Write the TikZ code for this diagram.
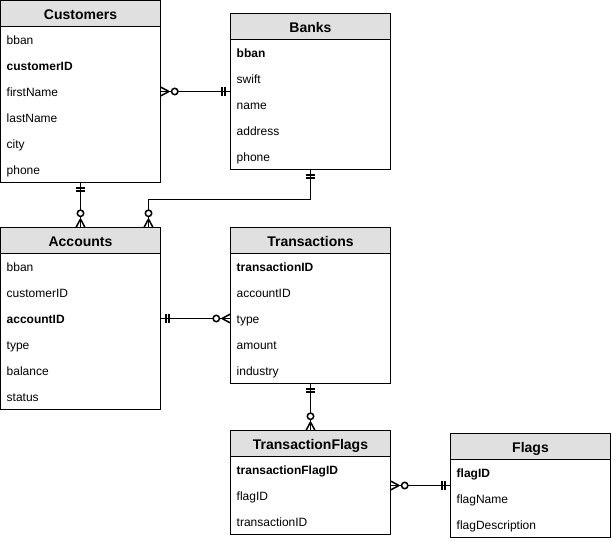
\documentclass[tikz,border=0pt]{standalone}
\usepackage{fontspec}
\setmainfont{Liberation Sans}
\usetikzlibrary{positioning,arrows.meta}

\definecolor{hdrgray}{RGB}{224,224,224}

% crow's foot ends: mandatory one, zero or many
\pgfdeclarearrow{
  name = onlyone,
  setup code = {
    \pgfarrowssettipend{0pt}
    \pgfarrowssetlineend{0pt}
    \pgfarrowssetbackend{-10pt}
    \pgfarrowssetvisualbackend{-10pt}
    \pgfarrowshullpoint{0pt}{5pt}
    \pgfarrowshullpoint{0pt}{-5pt}
    \pgfarrowshullpoint{-10pt}{5pt}
    \pgfarrowshullpoint{-10pt}{-5pt}
  },
  drawing code = {
    \pgfpathmoveto{\pgfpoint{-5.5pt}{-4.5pt}}
    \pgfpathlineto{\pgfpoint{-5.5pt}{4.5pt}}
    \pgfpathmoveto{\pgfpoint{-8.5pt}{-4.5pt}}
    \pgfpathlineto{\pgfpoint{-8.5pt}{4.5pt}}
    \pgfusepathqstroke
  }
}
\pgfdeclarearrow{
  name = zeromany,
  setup code = {
    \pgfarrowssettipend{0pt}
    \pgfarrowssetlineend{0pt}
    \pgfarrowssetbackend{-18pt}
    \pgfarrowssetvisualbackend{-18pt}
    \pgfarrowshullpoint{0pt}{5pt}
    \pgfarrowshullpoint{0pt}{-5pt}
    \pgfarrowshullpoint{-18pt}{5pt}
    \pgfarrowshullpoint{-18pt}{-5pt}
  },
  drawing code = {
    \pgfpathmoveto{\pgfpoint{0pt}{4.5pt}}
    \pgfpathlineto{\pgfpoint{-8.5pt}{0pt}}
    \pgfpathmoveto{\pgfpoint{0pt}{-4.5pt}}
    \pgfpathlineto{\pgfpoint{-8.5pt}{0pt}}
    \pgfusepathqstroke
    \pgfpathcircle{\pgfpoint{-14.2pt}{0pt}}{3.2pt}
    \pgfsetfillcolor{white}
    \pgfusepathqfillstroke
  }
}

\begin{document}
\begin{tikzpicture}[x=1pt,y=-1pt,
  table/.style={draw,line width=1pt,minimum width=160pt,inner sep=0,outer sep=0,anchor=north west},
  hdr/.style={draw,line width=1pt,fill=hdrgray,minimum width=160pt,minimum height=26pt,
    inner sep=0,outer sep=0,anchor=north,text height=12pt,text depth=0pt,
    font=\bfseries\fontsize{14}{16}\selectfont},
  field/.style={anchor=west,inner sep=0,text height=10pt,text depth=0pt,
    font=\fontsize{12}{14}\selectfont},
  rel/.style={line width=1.5pt}]

  \useasboundingbox (0,0) rectangle (611,541);

  % tables
  \node[table,minimum height=182pt] (cust) at (0.5,0.5) {};
  \node[table,minimum height=156pt] (bank) at (230.5,13.5) {};
  \node[table,minimum height=182pt] (acc) [below=45pt of cust.south west,anchor=north west] {};
  \node[table,minimum height=156pt] (trans) at (230.5,227.5) {};
  \node[table,minimum height=104pt] (tflag) [below=47pt of trans] {};
  \node[table,minimum height=104pt] (flag) at (450.5,433.5) {};

  \node[hdr] (cust-h) at (cust.north) {Customers};
  \node[hdr] (bank-h) at (bank.north) {Banks};
  \node[hdr] (acc-h) at (acc.north) {Accounts};
  \node[hdr] (trans-h) at (trans.north) {Transactions};
  \node[hdr] (tflag-h) at (tflag.north) {TransactionFlags};
  \node[hdr] (flag-h) at (flag.north) {Flags};

  % fields
  \foreach \f [count=\i] in {bban,\textbf{customerID},firstName,lastName,city,phone}
    \node[field] (cust-\i) at ([shift={(6,{13+26*\i})}]cust.north west) {\f};
  \foreach \f [count=\i] in {\textbf{bban},swift,name,address,phone}
    \node[field] (bank-\i) at ([shift={(6,{13+26*\i})}]bank.north west) {\f};
  \foreach \f [count=\i] in {bban,customerID,\textbf{accountID},type,balance,status}
    \node[field] (acc-\i) at ([shift={(6,{13+26*\i})}]acc.north west) {\f};
  \foreach \f [count=\i] in {\textbf{transactionID},accountID,type,amount,industry}
    \node[field] (trans-\i) at ([shift={(6,{13+26*\i})}]trans.north west) {\f};
  \foreach \f [count=\i] in {\textbf{transactionFlagID},flagID,transactionID}
    \node[field] (tflag-\i) at ([shift={(6,{13+26*\i})}]tflag.north west) {\f};
  \foreach \f [count=\i] in {\textbf{flagID},flagName,flagDescription}
    \node[field] (flag-\i) at ([shift={(6,{13+26*\i})}]flag.north west) {\f};

  % relations
  \coordinate (acc-in) at ([xshift=-12pt]acc.north east);
  \draw[rel,{zeromany}-{onlyone}] (cust) -- (bank);
  \draw[rel,{onlyone}-{zeromany}] (cust) -- (acc);
  \draw[rel,{onlyone}-{zeromany}] (bank.south) -- ++(0,30) -| (acc-in);
  \draw[rel,{onlyone}-{zeromany}] (acc.east) -- (acc.east -| trans.west);
  \draw[rel,{onlyone}-{zeromany}] (trans) -- (tflag);
  \draw[rel,{zeromany}-{onlyone}] (flag.west -| tflag.east) -- (flag.west);
\end{tikzpicture}
\end{document}
